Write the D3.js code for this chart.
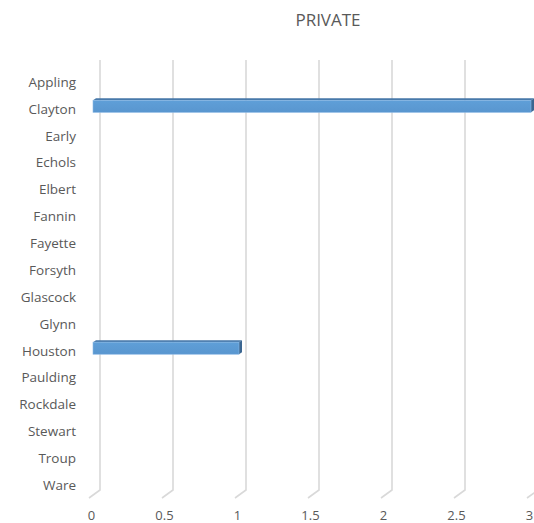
<!DOCTYPE html>
<html>
<head>
<meta charset="utf-8">
<script src="https://cdn.jsdelivr.net/npm/d3@7"></script>
<style>
body { margin: 0; background: #fff; }
text { font-family: "Open Sans", Lato, sans-serif; fill: #595959; }
</style>
</head>
<body>
<div id="chart"></div>
<script>
// data
categories = ["Appling","Clayton","Early","Echols","Elbert","Fannin","Fayette","Forsyth",
              "Glascock","Glynn","Houston","Paulding","Rockdale","Stewart","Troup","Ware"]
values = [0,3,0,0,0,0,0,0,0,0,1,0,0,0,0,0]
ticks = [0,0.5,1,1.5,2,2.5,3]
title = "PRIVATE"

width = 534
height = 523
// back wall of the plot and the depth offset to the front of the floor
back = ({top: 60, bottom: 490, left: 100})
depth = ({dx: -11, dy: 8})
barDepth = ({dx: 3, dy: -2})

var svg = d3.select("#chart").append("svg")
  .attr("width", width)
  .attr("height", height)

x = d3.scaleLinear()
  .domain([0, 3])
  .range([back.left, back.left + 438])

y = d3.scaleBand()
  .domain(categories)
  .range([back.top + depth.dy, back.bottom + depth.dy])
  .paddingInner(0.55)
  .paddingOuter(0.275)

// title
svg.append("text")
  .attr("x", 328)
  .attr("y", 26)
  .attr("text-anchor", "middle")
  .style("font-size", "17px")
  .text(title)

// gridlines: back wall vertical + floor diagonal
svg.append("g")
  .selectAll("path")
  .data(ticks)
  .enter().append("path")
  .attr("d", d => `M${x(d)},${back.top}V${back.bottom}l${depth.dx},${depth.dy}`)
  .attr("fill", "none")
  .attr("stroke", "#d9d9d9")
  .attr("stroke-width", 1.6)

// bars
var defs = svg.append("defs")
var grad = defs.append("linearGradient")
  .attr("id", "barfront").attr("x1", 0).attr("x2", 0).attr("y1", 0).attr("y2", 1)
grad.append("stop").attr("offset", "0%").attr("stop-color", "#5f9fd8")
grad.append("stop").attr("offset", "100%").attr("stop-color", "#5996cf")

var fx = d => x(d) - 7
var by = c => y(c) - 2
var bars = svg.append("g")
  .selectAll("g")
  .data(categories.map((c, i) => ({c: c, v: values[i]})).filter(d => d.v > 0))
  .enter().append("g")

// top face
bars.append("path")
  .attr("d", d => {
    var y0 = by(d.c), x0 = fx(0), x1 = fx(d.v)
    return `M${x0},${y0}L${x0 + barDepth.dx},${y0 + barDepth.dy}L${x1 + barDepth.dx},${y0 + barDepth.dy}L${x1},${y0}Z`
  })
  .attr("fill", "#4677a8")
// end face
bars.append("path")
  .attr("d", d => {
    var y0 = by(d.c), x1 = fx(d.v), h = y.bandwidth()
    return `M${x1},${y0}L${x1 + barDepth.dx},${y0 + barDepth.dy}L${x1 + barDepth.dx},${y0 + h + barDepth.dy}L${x1},${y0 + h}Z`
  })
  .attr("fill", "#3b6691")
// front face
bars.append("rect")
  .attr("x", fx(0))
  .attr("y", d => by(d.c))
  .attr("width", d => fx(d.v) - fx(0))
  .attr("height", y.bandwidth())
  .attr("fill", "url(#barfront)")
  .attr("stroke", "#8ab8e4")
  .attr("stroke-width", 0.6)

// category axis
svg.append("g")
  .attr("transform", `translate(76,1)`)
  .call(d3.axisLeft(y).tickSize(0).tickPadding(0))
  .call(g => g.select(".domain").remove())
  .selectAll("text")
  .style("font-size", "13.5px")
  .style("font-family", "'Open Sans', Lato, sans-serif")
  .attr("fill", "#595959")

// value axis labels
svg.append("g")
  .attr("transform", `translate(${depth.dx + 2},503)`)
  .call(d3.axisBottom(x).tickValues(ticks).tickSize(0).tickPadding(8).tickFormat(d3.format("")))
  .call(g => g.select(".domain").remove())
  .selectAll("text")
  .style("font-size", "13px")
  .style("font-family", "'Open Sans', Lato, sans-serif")
  .attr("fill", "#595959")
</script>
</body>
</html>
